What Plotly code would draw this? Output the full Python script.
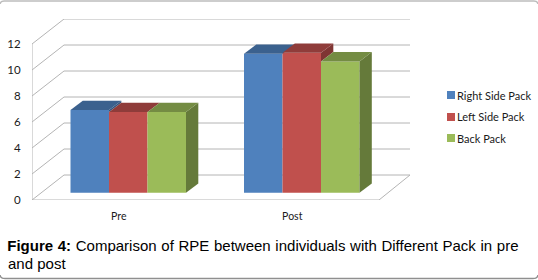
import plotly.graph_objects as go

categories = ["Pre", "Post"]
series_names = ["Right Side Pack", "Left Side Pack", "Back Pack"]
right_side = [6.36, 10.69]
left_side = [6.2, 10.77]
back_pack = [6.2, 10.1]
y_ticks = [0, 2, 4, 6, 8, 10, 12]
front_colors = ["#4F81BD", "#C0504D", "#9BBB59"]
top_colors = ["#3B618E", "#8F3C3A", "#748C43"]
side_colors = ["#34567F", "#7F3533", "#657A3A"]
caption_line1 = "<b>Figure 4:</b> Comparison of RPE between individuals with Different Pack in pre"
caption_line2 = "and post"

values = [right_side, left_side, back_pack]
UX = 173.5      # px per category
UY = 13.0       # px per y unit
X0, X1, XB = -0.5, 1.5, 1.5 + 31 / UX
WALL_DX, WALL_DY = 32 / UX, 25 / UY
BAR_W = 38.5 / UX
BAR_SHIFT = 9.5 / UX
BASE = 7.3 / UY
DEPTH_DX, DEPTH_DY = 12.3 / UX, 9.3 / UY
LINE = dict(color="#B4B4B4", width=1)

W, H = 538, 280
ML, MR, MT, MB = 32, 128, 19, 80
PW, PH = W - ML - MR, H - MT - MB


def px(x):
    return (x - ML) / PW


def py(y):
    return (H - MB - y) / PH


def card_path(points):
    (x0, y0), (cx1, cy1), (x1, y1), (x2, y2), (cx2, cy2), (x3, y3) = points
    return (f"M{px(x0)},{py(y0)} Q{px(cx1)},{py(cy1)} {px(x1)},{py(y1)} "
            f"L{px(x2)},{py(y2)} Q{px(cx2)},{py(cy2)} {px(x3)},{py(y3)}")


fig = go.Figure()
idx = list(range(len(categories)))

for s, name in enumerate(series_names):
    fig.add_trace(go.Bar(
        x=[i + BAR_SHIFT + (s - 1) * BAR_W for i in idx], y=values[s], base=BASE, width=BAR_W,
        name=name, marker=dict(color=front_colors[s], line=dict(width=0)), showlegend=False))

for s in range(len(series_names)):
    for i in idx:
        left = i + BAR_SHIFT + (s - 1.5) * BAR_W
        right = left + BAR_W
        top = values[s][i] + BASE
        if s + 1 < len(series_names):
            low = values[s + 1][i] + BASE
        else:
            low = BASE
        if low < top:
            fig.add_trace(go.Scatter(
                x=[right, right + DEPTH_DX, right + DEPTH_DX, right, right],
                y=[top, top + DEPTH_DY, low + DEPTH_DY, low, top],
                mode="lines", fill="toself", fillcolor=side_colors[s], line=dict(width=0),
                showlegend=False, hoverinfo="skip"))
        fig.add_trace(go.Scatter(
            x=[left, left + DEPTH_DX, right + DEPTH_DX, right, left],
            y=[top, top + DEPTH_DY, top + DEPTH_DY, top, top],
            mode="lines", fill="toself", fillcolor=top_colors[s], line=dict(width=0),
            showlegend=False, hoverinfo="skip"))

shapes = []
for t in y_ticks:
    shapes.append(dict(type="line", xref="x", yref="y", layer="below", x0=X0 + WALL_DX, x1=XB,
                       y0=t + WALL_DY, y1=t + WALL_DY, line=LINE))
    shapes.append(dict(type="line", xref="x", yref="y", layer="below", x0=X0, x1=X0 + WALL_DX,
                       y0=t, y1=t + WALL_DY, line=LINE))
shapes.append(dict(type="line", xref="x", yref="y", layer="below", x0=X0, x1=X0, y0=0, y1=y_ticks[-1], line=LINE))
shapes.append(dict(type="line", xref="x", yref="y", layer="below", x0=X0, x1=X1, y0=0, y1=0, line=LINE))
shapes.append(dict(type="line", xref="x", yref="y", layer="below", x0=X1, x1=XB, y0=0, y1=WALL_DY, line=LINE))

# card outline of the figure
shapes.append(dict(type="path", xref="paper", yref="paper",
                   path=card_path([(0, 4), (0.5, 1), (4, 1), (534, 1), (537.5, 1), (538, 4)]),
                   line=dict(color="#BDBDBD", width=1.5)))
shapes.append(dict(type="path", xref="paper", yref="paper",
                   path=card_path([(0, 275), (0.5, 278.5), (5, 278.5), (533, 278.5), (537.5, 278.5), (538, 275)]),
                   line=dict(color="#8F8F8F", width=1.5)))

legend_y = [95, 117, 138]
annotations = []
for name, color, ly in zip(series_names, front_colors, legend_y):
    shapes.append(dict(type="rect", xref="paper", yref="paper",
                       x0=px(447), x1=px(455), y0=py(ly - 4), y1=py(ly + 4),
                       fillcolor=color, line=dict(width=0)))
    annotations.append(dict(xref="paper", yref="paper", x=px(454.5), y=py(ly),
                            xanchor="left", yanchor="middle", showarrow=False, text=name,
                            font=dict(family="Lato", size=11, color="#1A1A1A")))
annotations.append(dict(xref="paper", yref="paper", x=px(8), y=py(245.5),
                        xanchor="left", yanchor="middle", showarrow=False, text=caption_line1,
                        font=dict(family="Liberation Sans", size=15, color="#000000")))
annotations.append(dict(xref="paper", yref="paper", x=px(6), y=py(263.5),
                        xanchor="left", yanchor="middle", showarrow=False, text=caption_line2,
                        font=dict(family="Liberation Sans", size=15, color="#000000")))

fig.update_layout(
    width=W, height=H, margin=dict(l=ML, r=MR, t=MT, b=MB, pad=0),
    paper_bgcolor="white", plot_bgcolor="white", showlegend=False,
    barmode="overlay", shapes=shapes, annotations=annotations,
    font=dict(family="Lato", color="#1A1A1A"),
    xaxis=dict(range=[X0, XB], tickvals=idx, ticktext=categories, showgrid=False, zeroline=False, automargin=False,
               showline=False, ticks="outside", ticklen=6, tickcolor="rgba(0,0,0,0)", tickfont=dict(size=10.5)),
    yaxis=dict(range=[0, (H - MB - MT) / UY], tickvals=y_ticks, showgrid=False, zeroline=False, showline=False,
               automargin=False, ticks="outside", ticklen=8, tickcolor="rgba(0,0,0,0)", tickfont=dict(size=11.5)),
)

justify = """
document.body.style.margin = '0';
document.querySelectorAll('.annotation-text').forEach(function (t) {
  if (t.textContent.indexOf('Comparison') >= 0) { t.style.wordSpacing = '0.5px'; }
});
"""
fig.write_html("out.html", config=dict(displayModeBar=False), post_script=justify)
